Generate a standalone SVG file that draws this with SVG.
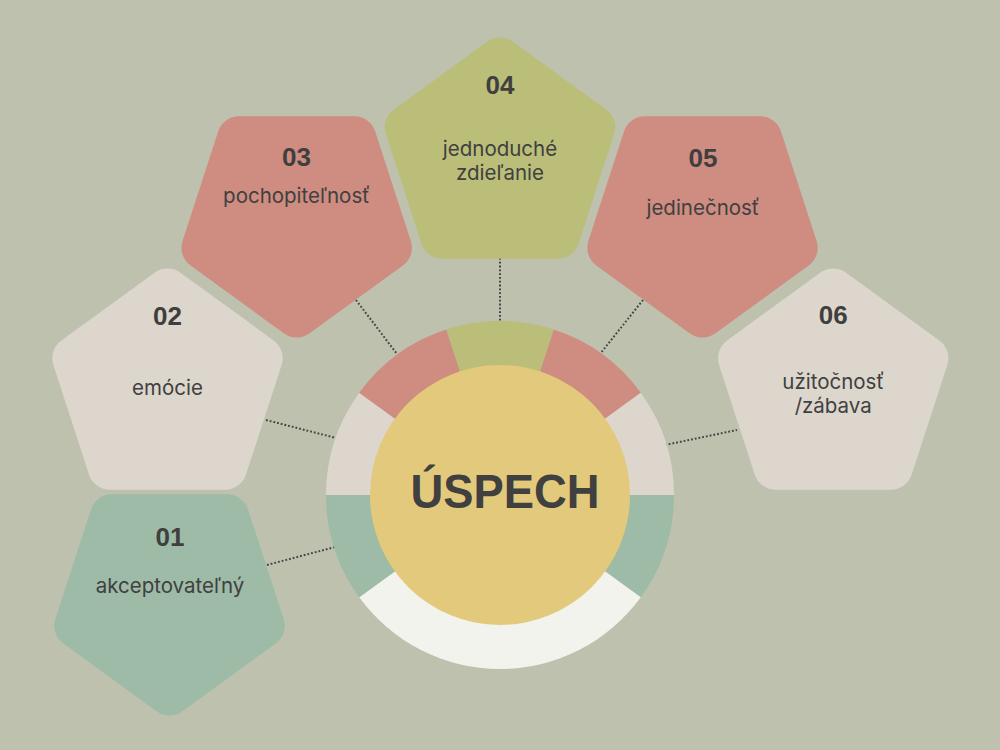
<svg xmlns="http://www.w3.org/2000/svg" xmlns:xlink="http://www.w3.org/1999/xlink" width="1000" height="750" viewBox="0 0 1000 750">
<style>
.bg{fill:#bdc1ae}
.red{fill:#cf8c80;stroke:#cf8c80}
.olive{fill:#bbbe78;stroke:#bbbe78}
.beige{fill:#ddd6cd;stroke:#ddd6cd}
.green{fill:#9dbba6;stroke:#9dbba6}
.shape{stroke-width:44;stroke-linejoin:round}
.sec-red{fill:#cf8c80}
.sec-olive{fill:#bbbe78}
.sec-beige{fill:#ddd6cd}
.sec-green{fill:#9dbba6}
.sec-white{fill:#f2f3ec}
.core{fill:#e3c97b}
.num{font-family:"Liberation Sans",Arial,sans-serif;font-weight:bold;font-size:26px;fill:#3f3f3f;text-anchor:middle}
.lbl{font-family:Inter,"Noto Sans",sans-serif;font-size:20.5px;fill:#404040;text-anchor:middle}
.title{font-family:"Liberation Sans",Arial,sans-serif;font-weight:bold;font-size:48px;fill:#404040;text-anchor:middle}
.dot{stroke:#444;stroke-width:2;stroke-dasharray:1.8 2;fill:none}
</style>
<defs>
<polygon id="pu" points="0,-98 93.2,-30.28 57.6,79.28 -57.6,79.28 -93.2,-30.28"/>
<polygon id="pd" points="0,98 93.2,30.28 57.6,-79.28 -57.6,-79.28 -93.2,30.28"/>
</defs>
<rect class="bg" x="0" y="0" width="1000" height="750"/>
<g id="connectors">
<line class="dot" x1="500" y1="258" x2="500" y2="322"/>
<line class="dot" x1="356" y1="300" x2="397" y2="354"/>
<line class="dot" x1="643" y1="300" x2="600" y2="354"/>
<line class="dot" x1="266" y1="420" x2="336" y2="438"/>
<line class="dot" x1="665" y1="445" x2="737" y2="430"/>
<line class="dot" x1="267" y1="565" x2="335" y2="547"/>
</g>
<g id="center">
<path class="sec-olive" d="M500,495 L446.23,329.51 A174,174 0 0 1 553.77,329.51 Z"/>
<path class="sec-red" d="M500,495 L553.77,329.51 A174,174 0 0 1 640.77,392.72 Z"/>
<path class="sec-beige" d="M500,495 L640.77,392.72 A174,174 0 0 1 674,495 Z"/>
<path class="sec-green" d="M500,495 L674,495 A174,174 0 0 1 640.77,597.28 Z"/>
<path class="sec-white" d="M500,495 L640.77,597.28 A174,174 0 0 1 359.23,597.28 Z"/>
<path class="sec-green" d="M500,495 L359.23,597.28 A174,174 0 0 1 326,495 Z"/>
<path class="sec-beige" d="M500,495 L326,495 A174,174 0 0 1 359.23,392.72 Z"/>
<path class="sec-red" d="M500,495 L359.23,392.72 A174,174 0 0 1 446.23,329.51 Z"/>
<circle class="core" cx="500" cy="495" r="130"/>
<text class="title" x="505" y="508" textLength="189" lengthAdjust="spacingAndGlyphs">ÚSPECH</text>
</g>
<g id="node01">
<use xlink:href="#pd" class="green shape" x="169.5" y="595.5"/>
<text class="num" x="170" y="546">01</text>
<text class="lbl" x="170" y="593">akceptovateľný</text>
</g>
<g id="node02">
<use xlink:href="#pu" class="beige shape" x="167.5" y="388.5"/>
<text class="num" x="167.5" y="325">02</text>
<text class="lbl" x="167.5" y="395">emócie</text>
</g>
<g id="node03">
<use xlink:href="#pd" class="red shape" x="296.7" y="217.5"/>
<text class="num" x="296.5" y="166">03</text>
<text class="lbl" x="296.5" y="203">pochopiteľnosť</text>
</g>
<g id="node04">
<use xlink:href="#pu" class="olive shape" x="500" y="157.5"/>
<text class="num" x="500" y="94">04</text>
<text class="lbl" x="500" y="156">jednoduché</text>
<text class="lbl" x="500" y="180">zdieľanie</text>
</g>
<g id="node05">
<use xlink:href="#pd" class="red shape" x="702.5" y="217.5"/>
<text class="num" x="703" y="166.5">05</text>
<text class="lbl" x="703" y="215">jedinečnosť</text>
</g>
<g id="node06">
<use xlink:href="#pu" class="beige shape" x="833.2" y="388.5"/>
<text class="num" x="833.2" y="324">06</text>
<text class="lbl" x="833.2" y="389">užitočnosť</text>
<text class="lbl" x="833.2" y="413">/zábava</text>
</g>
</svg>
